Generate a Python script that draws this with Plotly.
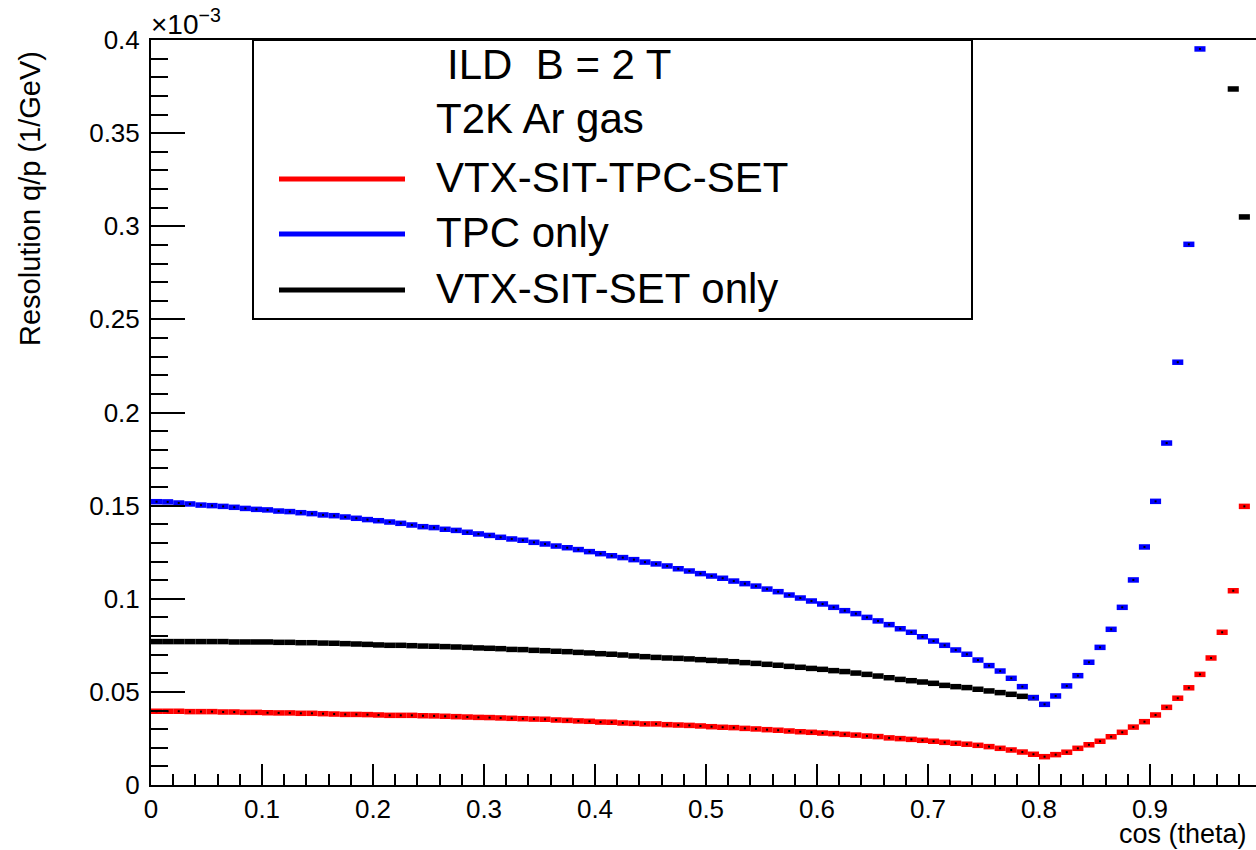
import plotly.graph_objects as go

# ---------------- data (resolution values in units of 1e-3 GeV^-1) ----------------
cos_theta = [0.005, 0.015, 0.025, 0.035, 0.045, 0.055, 0.065, 0.075, 0.085, 0.095,
             0.105, 0.115, 0.125, 0.135, 0.145, 0.155, 0.165, 0.175, 0.185, 0.195,
             0.205, 0.215, 0.225, 0.235, 0.245, 0.255, 0.265, 0.275, 0.285, 0.295,
             0.305, 0.315, 0.325, 0.335, 0.345, 0.355, 0.365, 0.375, 0.385, 0.395,
             0.405, 0.415, 0.425, 0.435, 0.445, 0.455, 0.465, 0.475, 0.485, 0.495,
             0.505, 0.515, 0.525, 0.535, 0.545, 0.555, 0.565, 0.575, 0.585, 0.595,
             0.605, 0.615, 0.625, 0.635, 0.645, 0.655, 0.665, 0.675, 0.685, 0.695,
             0.705, 0.715, 0.725, 0.735, 0.745, 0.755, 0.765, 0.775, 0.785, 0.795,
             0.805, 0.815, 0.825, 0.835, 0.845, 0.855, 0.865, 0.875, 0.885, 0.895,
             0.905, 0.915, 0.925, 0.935, 0.945, 0.955, 0.965, 0.975, 0.985]

full_tracking = [  # VTX-SIT-TPC-SET (red)
    0.0396, 0.0396, 0.0396, 0.0394, 0.0394, 0.0394, 0.0392, 0.0392, 0.0390, 0.0390,
    0.0388, 0.0387, 0.0387, 0.0385, 0.0385, 0.0383, 0.0381, 0.0379, 0.0379, 0.0378,
    0.0376, 0.0374, 0.0374, 0.0374, 0.0372, 0.0371, 0.0369, 0.0367, 0.0365, 0.0363,
    0.0362, 0.0360, 0.0358, 0.0356, 0.0354, 0.0353, 0.0349, 0.0347, 0.0344, 0.0342,
    0.0338, 0.0337, 0.0333, 0.0331, 0.0328, 0.0328, 0.0324, 0.0322, 0.0320, 0.0317,
    0.0313, 0.0310, 0.0308, 0.0304, 0.0301, 0.0297, 0.0294, 0.0290, 0.0286, 0.0283,
    0.0279, 0.0276, 0.0272, 0.0268, 0.0263, 0.0260, 0.0253, 0.0249, 0.0245, 0.0240,
    0.0235, 0.0229, 0.0224, 0.0219, 0.0213, 0.0206, 0.0197, 0.0188, 0.0177, 0.0165,
    0.0152, 0.0163, 0.0176, 0.0197, 0.0216, 0.0235, 0.0259, 0.0283, 0.0311, 0.0340,
    0.0376, 0.0417, 0.0466, 0.0522, 0.0594, 0.0682, 0.0820, 0.1043, 0.1496]

tpc_only = [  # TPC only (blue)
    0.1521, 0.1520, 0.1514, 0.1509, 0.1503, 0.1500, 0.1496, 0.1491, 0.1485, 0.1480,
    0.1477, 0.1471, 0.1468, 0.1462, 0.1457, 0.1450, 0.1446, 0.1439, 0.1432, 0.1425,
    0.1419, 0.1412, 0.1405, 0.1396, 0.1387, 0.1382, 0.1373, 0.1367, 0.1357, 0.1348,
    0.1340, 0.1330, 0.1321, 0.1314, 0.1303, 0.1294, 0.1283, 0.1274, 0.1264, 0.1253,
    0.1242, 0.1231, 0.1221, 0.1210, 0.1197, 0.1187, 0.1176, 0.1161, 0.1149, 0.1135,
    0.1122, 0.1110, 0.1095, 0.1081, 0.1068, 0.1052, 0.1038, 0.1020, 0.1004, 0.0988,
    0.0972, 0.0954, 0.0936, 0.0920, 0.0900, 0.0881, 0.0861, 0.0839, 0.0820, 0.0796,
    0.0773, 0.0750, 0.0725, 0.0702, 0.0671, 0.0641, 0.0612, 0.0573, 0.0528, 0.0469,
    0.0433, 0.0478, 0.0532, 0.0587, 0.0659, 0.0739, 0.0836, 0.0954, 0.1101, 0.1278,
    0.1523, 0.1836, 0.2270, 0.2903, 0.3952, None, None, None, None]

silicon_only = [  # VTX-SIT-SET only (black)
    0.0770, 0.0770, 0.0770, 0.0770, 0.0770, 0.0770, 0.0770, 0.0768, 0.0768, 0.0768,
    0.0768, 0.0766, 0.0766, 0.0764, 0.0764, 0.0762, 0.0761, 0.0759, 0.0757, 0.0755,
    0.0752, 0.0750, 0.0750, 0.0748, 0.0746, 0.0745, 0.0743, 0.0741, 0.0739, 0.0736,
    0.0734, 0.0732, 0.0728, 0.0727, 0.0723, 0.0721, 0.0718, 0.0716, 0.0712, 0.0709,
    0.0705, 0.0702, 0.0698, 0.0693, 0.0689, 0.0685, 0.0682, 0.0680, 0.0677, 0.0673,
    0.0669, 0.0666, 0.0662, 0.0657, 0.0653, 0.0648, 0.0643, 0.0637, 0.0632, 0.0626,
    0.0621, 0.0614, 0.0609, 0.0601, 0.0594, 0.0585, 0.0576, 0.0567, 0.0560, 0.0553,
    0.0546, 0.0535, 0.0528, 0.0523, 0.0514, 0.0505, 0.0496, 0.0487, 0.0476, 0.0469,
    None, None, None, None, None, None, None, None, None, None,
    None, None, None, None, None, None, None, 0.3737, 0.3050]

series_names = ["VTX-SIT-TPC-SET", "TPC only", "VTX-SIT-SET only"]
legend_header = ["ILD\u00a0\u00a0B = 2 T", "T2K Ar gas"]
x_title = "cos (theta)"
y_title = "Resolution q/p (1/GeV)"

# ---------------- styling ----------------
FONT = "Liberation Sans, Arial, Helvetica, sans-serif"
RED, BLUE, BLACK = "rgb(255,0,0)", "rgb(0,0,255)", "rgb(0,0,0)"
W, H = 1256, 850
L, R, T, B = 151, 0, 40, 65
BIN_HALF = 0.005


def px(x):
    return (x - L) / (W - L - R)


def py(y):
    return (H - B - y) / (H - T - B)


fig = go.Figure()


def add_series(y, color):
    fig.add_trace(go.Scatter(
        x=cos_theta, y=y, mode="markers",
        marker=dict(symbol="square", size=2, color="black", line=dict(width=0)),
        error_x=dict(type="constant", value=BIN_HALF, thickness=5.5, width=0, color=color),
        showlegend=False, hoverinfo="x+y",
    ))


add_series(silicon_only, BLACK)
add_series(full_tracking, RED)
add_series(tpc_only, BLUE)

fig.update_layout(
    width=W, height=H,
    margin=dict(l=L, r=R, t=T, b=B),
    paper_bgcolor="white", plot_bgcolor="white",
    font=dict(family=FONT, color="black"),
    showlegend=False,
)

fig.update_xaxes(
    range=[0, (W - L - R) / 1110.0], showgrid=False, zeroline=False,
    showline=True, linecolor="black", linewidth=2, mirror=True,
    ticks="inside", ticklen=21, tickwidth=2, tickcolor="black",
    tick0=0, dtick=0.1, tickfont=dict(size=26, family=FONT),
    minor=dict(ticks="inside", ticklen=11, tickwidth=2, tickcolor="black", dtick=0.02, showgrid=False),
)
fig.update_yaxes(
    range=[0, 0.4], showgrid=False, zeroline=False,
    showline=True, linecolor="black", linewidth=2, mirror=False,
    ticks="inside", ticklen=34, tickwidth=2, tickcolor="black",
    tick0=0, dtick=0.05, tickfont=dict(size=26, family=FONT),
    ticklabelstandoff=4,
    minor=dict(ticks="inside", ticklen=17, tickwidth=2, tickcolor="black", dtick=0.01, showgrid=False),
)

# legend box
fig.add_shape(type="rect", xref="paper", yref="paper",
              x0=px(253), x1=px(972), y0=py(319), y1=py(40),
              line=dict(color="black", width=2), fillcolor="white", layer="above")

ann = []
ann.append(dict(text=legend_header[0], x=px(445), y=py(65), xanchor="left", yanchor="middle",
                font=dict(size=42, family=FONT)))
ann.append(dict(text=legend_header[1], x=px(434), y=py(119), xanchor="left", yanchor="middle",
                font=dict(size=42, family=FONT)))
for name, color, yy in zip(series_names, [RED, BLUE, BLACK], [177, 232, 288]):
    ann.append(dict(text=name, x=px(434), y=py(yy), xanchor="left", yanchor="middle",
                    font=dict(size=42, family=FONT)))
    fig.add_shape(type="line", xref="paper", yref="paper",
                  x0=px(279), x1=px(405), y0=py(yy + 2), y1=py(yy + 2),
                  line=dict(color=color, width=5), layer="above")

# axis titles and exponent
ann.append(dict(text=y_title, x=px(30), y=py(199), xanchor="center", yanchor="middle",
                textangle=-90, font=dict(size=29, family=FONT)))
ann.append(dict(text=x_title, x=px(1249), y=py(834), xanchor="right", yanchor="middle",
                font=dict(size=27, family=FONT)))
ann.append(dict(text="\u00d710<sup>\u22123</sup>", x=px(149), y=py(42), xanchor="left", yanchor="bottom",
                font=dict(size=28, family=FONT)))

for a in ann:
    a.update(xref="paper", yref="paper", showarrow=False)
fig.update_layout(annotations=ann)

fig.write_html("out.html")
